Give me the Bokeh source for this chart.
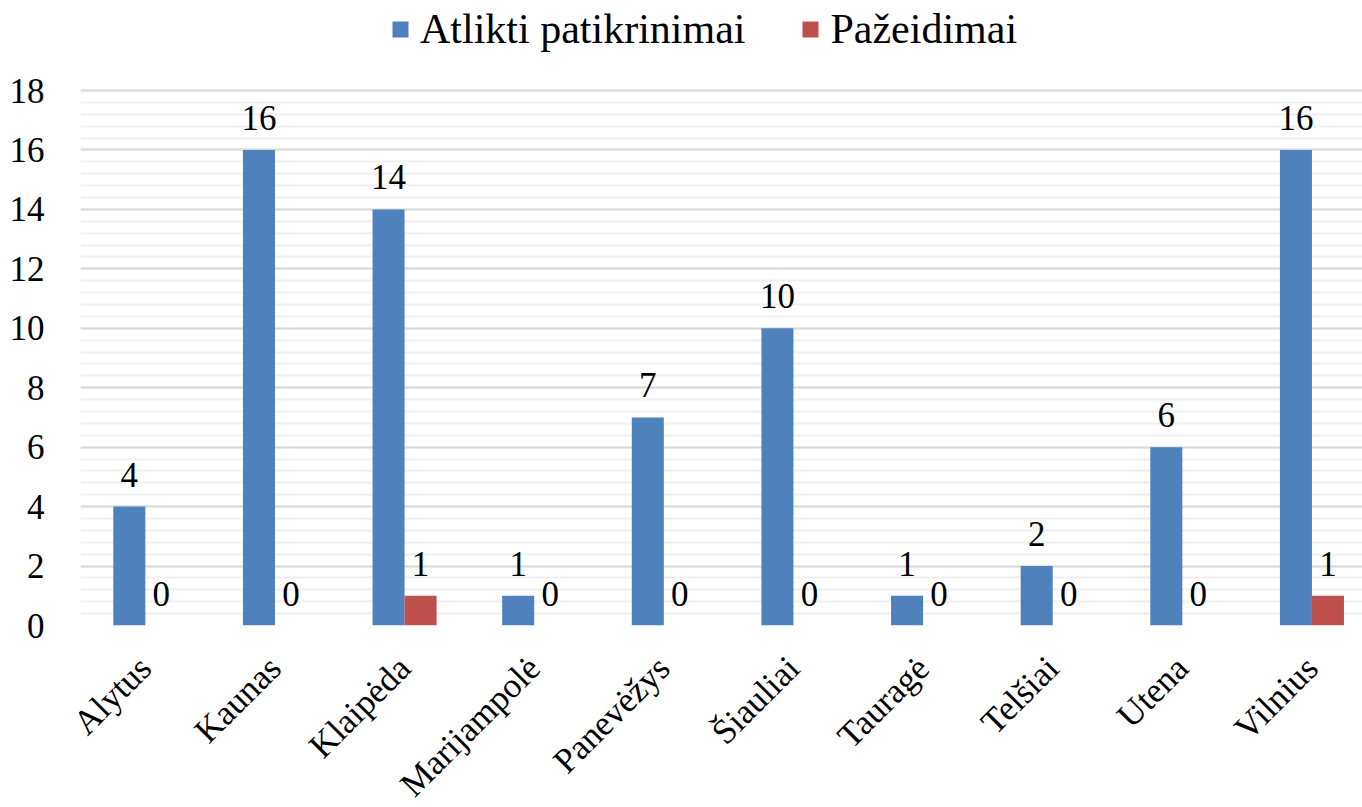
import math
from bokeh.plotting import figure
from bokeh.models import ColumnDataSource, FixedTicker, Legend, LegendItem, Range1d
from bokeh.core.properties import value
from bokeh.embed import file_html
from bokeh.resources import INLINE

categories = ["Alytus", "Kaunas", "Klaipėda", "Marijampolė", "Panevėžys",
              "Šiauliai", "Tauragė", "Telšiai", "Utena", "Vilnius"]
atlikti = [4, 16, 14, 1, 7, 10, 1, 2, 6, 16]
pazeidimai = [0, 0, 1, 0, 0, 0, 0, 0, 0, 1]
y_ticks = [0, 2, 4, 6, 8, 10, 12, 14, 16, 18]

FONT = "Liberation Serif"
BLUE = "#4f81bd"
RED = "#c0504d"
BW = 0.247

xs = [i + 0.5 for i in range(len(categories))]
src = ColumnDataSource(dict(
    x=xs,
    xb=[x - BW / 2 for x in xs],
    xr=[x + BW / 2 for x in xs],
    a=atlikti,
    p=pazeidimai,
    al=[str(v) for v in atlikti],
    pl=[str(v) for v in pazeidimai],
))

# frame spans the full top of the picture; the value axis stops at 18
p = figure(width=1362, height=807, frame_width=1282, frame_height=625,
           output_backend="svg", toolbar_location=None,
           x_range=Range1d(0, 9.89), y_range=Range1d(0, 21.03),
           min_border_left=80, min_border_right=0, min_border_top=0, min_border_bottom=0)
p.outline_line_color = None

rb = p.vbar(x="xb", top="a", width=BW, source=src, fill_color=BLUE, line_color=None)
rr = p.vbar(x="xr", top="p", width=BW, source=src, fill_color=RED, line_color=None)

p.text(x="xb", y="a", text="al", source=src, text_align="center", text_baseline="alphabetic",
       y_offset=-32, text_font=value(FONT), text_font_size="35px", text_color="black")
p.text(x="xr", y="p", text="pl", source=src, text_align="center", text_baseline="alphabetic",
       y_offset=-32, text_font=value(FONT), text_font_size="35px", text_color="black")

# axes
p.yaxis.ticker = FixedTicker(ticks=y_ticks, minor_ticks=[i * 0.4 for i in range(46)])
p.yaxis.axis_line_color = None
p.yaxis.major_tick_line_color = None
p.yaxis.minor_tick_line_color = None
p.yaxis.major_label_text_font = FONT
p.yaxis.major_label_text_font_size = "35px"
p.yaxis.major_label_text_color = "black"
p.yaxis.major_label_standoff = 30

p.xaxis.ticker = FixedTicker(ticks=xs)
p.xaxis.major_label_overrides = {x: c for x, c in zip(xs, categories)}
p.xaxis.major_label_orientation = math.pi / 4
p.xaxis.axis_line_color = None
p.xaxis.major_tick_line_color = None
p.xaxis.minor_tick_line_color = None
p.xaxis.major_label_text_font = FONT
p.xaxis.major_label_text_font_size = "35px"
p.xaxis.major_label_text_color = "black"
p.xaxis.major_label_standoff = 31

p.xgrid.grid_line_color = None
p.ygrid.grid_line_color = "#d9d9d9"
p.ygrid.grid_line_width = 2
p.ygrid.minor_grid_line_color = "#f0f0f0"
p.ygrid.minor_grid_line_width = 2

legend = Legend(items=[LegendItem(label="Atlikti patikrinimai", renderers=[rb]),
                       LegendItem(label="Pažeidimai", renderers=[rr])],
                orientation="horizontal", location=(310, 572),
                label_text_font=FONT, label_text_font_size="42px",
                label_text_color="black", glyph_width=20, glyph_height=20,
                spacing=55, label_standoff=10, border_line_color=None,
                background_fill_alpha=0, padding=0, margin=0)
p.add_layout(legend, "center")

open("out.html", "w").write(file_html(p, INLINE))
